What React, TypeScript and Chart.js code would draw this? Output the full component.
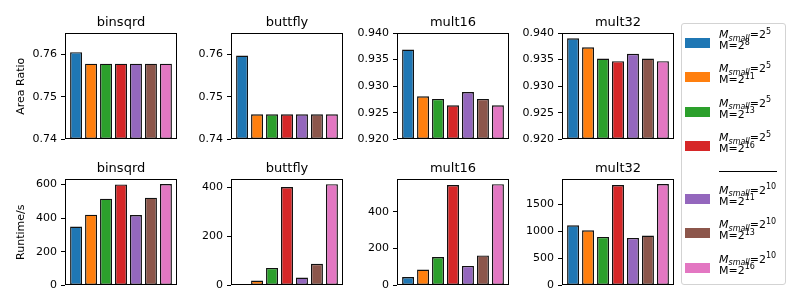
import React, { useEffect, useRef } from "react";
import { Chart, registerables } from "chart.js";

Chart.register(...registerables);

// ---------------- data ----------------
const benchmarks = ["binsqrd", "buttfly", "mult16", "mult32"];
const smallExp = [5, 5, 5, 5, 10, 10, 10];
const bigExp = [8, 11, 13, 16, 11, 13, 16];
const colors = ["#1f77b4", "#ff7f0e", "#2ca02c", "#d62728", "#9467bd", "#8c564b", "#e377c2"];

const areaBinsqrd = [0.7605, 0.7578, 0.7578, 0.7578, 0.7578, 0.7578, 0.7578];
const areaButtfly = [0.7597, 0.7459, 0.7459, 0.7459, 0.7459, 0.7459, 0.7459];
const areaMult16 = [0.9369, 0.9281, 0.9276, 0.9264, 0.9289, 0.9276, 0.9264];
const areaMult32 = [0.939, 0.9373, 0.9352, 0.9347, 0.9361, 0.9352, 0.9347];

const runBinsqrd = [350, 420, 515, 600, 418, 521, 602];
const runButtfly = [5, 20, 71, 400, 32, 88, 412];
const runMult16 = [45, 86, 154, 545, 106, 163, 550];
const runMult32 = [1111, 1020, 897, 1857, 879, 923, 1875];

const areaTicksA = ["0.74", "0.75", "0.76"];
const areaTicksB = ["0.920", "0.925", "0.930", "0.935", "0.940"];
const runTicksBinsqrd = ["0", "200", "400", "600"];
const runTicksButtfly = ["0", "200", "400"];
const runTicksMult16 = ["0", "200", "400"];
const runTicksMult32 = ["0", "500", "1000", "1500"];

const areaMax = [0.765, 0.765, 0.94, 0.94];
const runMax = [632, 433, 578, 1969];

const areaValues = [areaBinsqrd, areaButtfly, areaMult16, areaMult32];
const runValues = [runBinsqrd, runButtfly, runMult16, runMult32];
const areaTicks = [areaTicksA, areaTicksA, areaTicksB, areaTicksB];
const runTicks = [runTicksBinsqrd, runTicksButtfly, runTicksMult16, runTicksMult32];

// ---------------- layout ----------------
const FONT = "DejaVu Sans";
const plotLefts = [65, 231, 397, 562];
const plotWidth = 112;
const rowTops = [0, 146];
const canvasH = 150;

const framePlugin = {
  id: "frame",
  afterDatasetsDraw(chart: any) {
    const { ctx, chartArea } = chart;
    const l = Math.round(chartArea.left) + 0.5;
    const t = Math.round(chartArea.top) + 0.5;
    const r = Math.round(chartArea.right) - 0.5;
    const b = Math.round(chartArea.bottom) - 0.5;
    ctx.save();
    ctx.strokeStyle = "#000";
    ctx.lineWidth = 1;
    ctx.strokeRect(l, t, r - l, b - t);
    ctx.restore();
  },
};

const panelTitlePlugin = {
  id: "panelTitle",
  afterDraw(chart: any, _args: any, opts: any) {
    const { ctx, chartArea } = chart;
    ctx.save();
    ctx.fillStyle = "#000";
    ctx.font = `13px "${FONT}"`;
    ctx.textAlign = "center";
    ctx.textBaseline = "alphabetic";
    ctx.fillText(opts.text, (chartArea.left + chartArea.right) / 2, chartArea.top - 7.5);
    ctx.restore();
  },
};

function Panel(props: {
  title: string;
  values: number[];
  ticks: string[];
  max: number;
  yTitle?: string;
  axisWidth: number;
  left: number;
  top: number;
}) {
  const ref = useRef<HTMLCanvasElement>(null);
  useEffect(() => {
    if (!ref.current) return;
    const tickVals = props.ticks.map(Number);
    const min = tickVals[0];
    const chart = new Chart(ref.current, {
      type: "bar",
      data: {
        datasets: [
          {
            data: props.values.map((v, i) => ({ x: i, y: v })),
            backgroundColor: colors,
            borderColor: "#111",
            borderWidth: 1.4,
            borderSkipped: false,
            base: min,
            categoryPercentage: 1,
            barPercentage: 0.8,
          } as any,
        ],
      },
      options: {
        animation: false,
        responsive: false,
        maintainAspectRatio: false,
        devicePixelRatio: 1,
        layout: { padding: { top: 33, right: 2, bottom: 9, left: 0 } },
        plugins: {
          legend: { display: false },
          tooltip: { enabled: false },
          title: { display: false },
          panelTitle: { text: props.title },
        },
        scales: {
          x: {
            type: "linear",
            min: -0.74,
            max: 6.74,
            offset: false,
            display: false,
            afterBuildTicks: (s: any) => {
              s.ticks = props.values.map((_v, i) => ({ value: i }));
            },
          },
          y: {
            min,
            max: props.max,
            afterBuildTicks: (s: any) => {
              s.ticks = tickVals.map((v) => ({ value: v }));
            },
            afterFit: (s: any) => {
              s.width = props.axisWidth;
            },
            ticks: {
              autoSkip: false,
              color: "#000",
              padding: 4,
              font: { family: FONT, size: 11 },
              callback: (_v: any, i: number) => props.ticks[i],
            },
            grid: {
              drawOnChartArea: false,
              drawTicks: true,
              tickLength: 4,
              color: "#000",
              lineWidth: 1,
            },
            border: { display: false },
            title: {
              display: !!props.yTitle,
              text: props.yTitle || "",
              color: "#000",
              font: { family: FONT, size: 11 },
              padding: { top: 14.4, bottom: 0 },
            },
          },
        },
      } as any,
      plugins: [framePlugin, panelTitlePlugin],
    });
    return () => chart.destroy();
  }, []);
  const w = props.axisWidth + plotWidth + 2;
  return (
    <canvas
      ref={ref}
      width={w}
      height={canvasH}
      style={{ position: "absolute", left: props.left - props.axisWidth, top: props.top, width: w, height: canvasH, display: "block" }}
    />
  );
}

const legendCenters = [42, 76, 110.5, 145, 197.5, 232, 266.5];

function Legend() {
  const it: React.CSSProperties = { fontStyle: "italic" };
  const sup: React.CSSProperties = { fontSize: 8, position: "relative", top: -4.5, verticalAlign: "baseline" };
  const sub: React.CSSProperties = { fontSize: 8, fontStyle: "italic", position: "relative", top: 2.5, verticalAlign: "baseline" };
  return (
    <div
      style={{
        position: "absolute",
        left: 681,
        top: 23,
        width: 105,
        height: 262,
        boxSizing: "border-box",
        border: "1px solid #d3d3d3",
        borderRadius: 3,
        background: "#fff",
      }}
    >
      {smallExp.map((s, i) => {
        const cy = legendCenters[i] - 23;
        return (
          <React.Fragment key={i}>
            <div style={{ position: "absolute", left: 3, top: cy - 5, width: 25, height: 10, background: colors[i] }} />
            <div style={{ position: "absolute", left: 37, top: cy - 14, height: 11, lineHeight: "11px", fontSize: 11, fontFamily: FONT, whiteSpace: "nowrap", color: "#000" }}>
              <span style={it}>M</span>
              <span style={sub}>small</span>=2<span style={sup}>{s}</span>
            </div>
            <div style={{ position: "absolute", left: 37, top: cy - 3, height: 11, lineHeight: "11px", fontSize: 11, fontFamily: FONT, whiteSpace: "nowrap", color: "#000" }}>
              M=2<span style={sup}>{bigExp[i]}</span>
            </div>
          </React.Fragment>
        );
      })}
      <div style={{ position: "absolute", left: 37, top: 170 - 23, width: 58, height: 0, borderTop: "1px solid #000" }} />
    </div>
  );
}

export default function App() {
  return (
    <div style={{ position: "absolute", left: 0, top: 0, width: 793, height: 307, background: "#fff", overflow: "hidden" }}>
      {benchmarks.map((b, c) => (
        <Panel
          key={"a" + b}
          title={b}
          values={areaValues[c]}
          ticks={areaTicks[c]}
          max={areaMax[c]}
          yTitle={c === 0 ? "Area Ratio" : undefined}
          axisWidth={c === 0 ? 65 : 52}
          left={plotLefts[c]}
          top={rowTops[0]}
        />
      ))}
      {benchmarks.map((b, c) => (
        <Panel
          key={"r" + b}
          title={b}
          values={runValues[c]}
          ticks={runTicks[c]}
          max={runMax[c]}
          yTitle={c === 0 ? "Runtime/s" : undefined}
          axisWidth={c === 0 ? 65 : 52}
          left={plotLefts[c]}
          top={rowTops[1]}
        />
      ))}
      <Legend />
    </div>
  );
}
